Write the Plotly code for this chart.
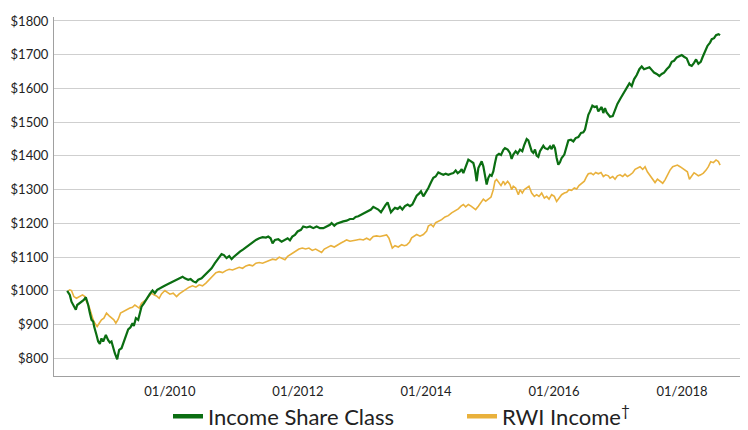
import plotly.graph_objects as go

# ---- Data ----
# x values are decimal years
income_years = [
    2008.396, 2008.437, 2008.463, 2008.531, 2008.552, 2008.583, 2008.620, 2008.656, 2008.687, 2008.724,
    2008.750, 2008.776, 2008.802, 2008.817, 2008.854, 2008.880, 2008.906, 2008.932, 2008.958, 2009.000,
    2009.036, 2009.062, 2009.088, 2009.114, 2009.140, 2009.177, 2009.208, 2009.245, 2009.271, 2009.323,
    2009.349, 2009.385, 2009.416, 2009.437, 2009.469, 2009.505, 2009.531, 2009.557, 2009.594, 2009.625,
    2009.661, 2009.687, 2009.729, 2009.765, 2009.802, 2009.843, 2009.896, 2009.948,
    2010.000, 2010.052, 2010.104, 2010.156, 2010.198, 2010.234, 2010.286, 2010.323, 2010.365, 2010.406,
    2010.443, 2010.495, 2010.547, 2010.599, 2010.651, 2010.703, 2010.755, 2010.807, 2010.844, 2010.885,
    2010.927, 2010.964, 2011.000, 2011.042, 2011.094, 2011.146, 2011.198, 2011.240, 2011.292, 2011.344,
    2011.396, 2011.448, 2011.500, 2011.536, 2011.573, 2011.604, 2011.641, 2011.693, 2011.745,
    2011.797, 2011.839, 2011.875, 2011.912, 2011.953, 2011.995, 2012.047, 2012.083, 2012.136, 2012.188,
    2012.240, 2012.292, 2012.344, 2012.396, 2012.448, 2012.500, 2012.526, 2012.568, 2012.604, 2012.656,
    2012.708, 2012.761, 2012.813, 2012.865, 2012.901, 2012.943, 2012.995, 2013.047, 2013.099, 2013.141,
    2013.177, 2013.214, 2013.255, 2013.297, 2013.333, 2013.370, 2013.401, 2013.422, 2013.453, 2013.490,
    2013.516, 2013.558, 2013.594, 2013.631, 2013.672, 2013.714, 2013.750, 2013.787, 2013.818, 2013.855,
    2013.891, 2013.922, 2013.959, 2013.995, 2014.037, 2014.079, 2014.115, 2014.151, 2014.193, 2014.235,
    2014.271, 2014.308, 2014.349, 2014.391, 2014.427, 2014.464, 2014.495, 2014.532, 2014.558, 2014.584,
    2014.610, 2014.636, 2014.662, 2014.704, 2014.740, 2014.766, 2014.792, 2014.818, 2014.844, 2014.870,
    2014.896, 2014.922, 2014.948, 2014.974, 2015.000, 2015.026, 2015.052, 2015.078, 2015.104, 2015.141,
    2015.172, 2015.209,
    2015.234, 2015.276, 2015.312, 2015.338, 2015.364, 2015.401, 2015.432, 2015.469, 2015.505, 2015.536,
    2015.573, 2015.599, 2015.625, 2015.651, 2015.677, 2015.703, 2015.729, 2015.755, 2015.781, 2015.807,
    2015.833, 2015.859, 2015.901, 2015.937, 2015.963, 2015.989, 2016.015, 2016.041, 2016.067, 2016.093,
    2016.119, 2016.161, 2016.198, 2016.224, 2016.265, 2016.302, 2016.338, 2016.380, 2016.422, 2016.458,
    2016.484, 2016.510, 2016.536, 2016.562, 2016.599, 2016.630, 2016.666, 2016.692, 2016.718, 2016.744,
    2016.770, 2016.796, 2016.822, 2016.859,
    2016.875, 2016.917, 2016.953, 2016.990, 2017.031, 2017.073, 2017.109, 2017.146, 2017.177, 2017.214,
    2017.250, 2017.292, 2017.333, 2017.370, 2017.406, 2017.448, 2017.490, 2017.526, 2017.562, 2017.604,
    2017.646, 2017.682, 2017.719, 2017.760, 2017.802, 2017.839, 2017.875, 2017.917, 2017.958, 2017.995,
    2018.031, 2018.073, 2018.115, 2018.151, 2018.187, 2018.219, 2018.255, 2018.292, 2018.323, 2018.359,
    2018.396, 2018.437, 2018.464, 2018.500, 2018.531, 2018.568, 2018.594,
]
income_values = [
    1000, 988, 968, 944, 958, 963, 968, 973, 981, 958,
    934, 914, 909, 894, 869, 850, 843, 859, 850, 869,
    854, 847, 850, 830, 815, 797, 825, 830, 845, 874,
    886, 892, 904, 896, 919, 914, 934, 953, 963, 973,
    983, 991, 1001, 993, 1003, 1008, 1013, 1018,
    1023, 1028, 1033, 1037, 1042, 1037, 1033, 1035, 1028, 1025,
    1033, 1037, 1047, 1057, 1067, 1082, 1097, 1109, 1106, 1097,
    1103, 1094, 1101, 1109, 1116, 1123, 1131, 1136, 1143, 1151,
    1156, 1159, 1158, 1161, 1156, 1141, 1151, 1153, 1146,
    1151, 1156, 1150, 1161, 1166, 1176, 1181, 1191, 1188, 1191,
    1186, 1191, 1186, 1186, 1191, 1196, 1201, 1193, 1199, 1203,
    1206, 1208, 1213, 1213, 1219, 1221, 1226, 1231, 1236, 1241,
    1249, 1246, 1241, 1233, 1246, 1255, 1262, 1250, 1233, 1241,
    1246, 1243, 1249, 1241, 1251, 1256, 1251, 1256, 1270, 1282,
    1288, 1295, 1280, 1290, 1305, 1322, 1335, 1339, 1351, 1347,
    1344, 1347, 1344, 1347, 1349, 1357, 1349, 1354, 1361, 1349,
    1364, 1381, 1389, 1384, 1379, 1359, 1325, 1364, 1374, 1384,
    1369, 1344, 1315, 1335, 1344, 1341, 1354, 1379, 1401, 1406,
    1403, 1418,
    1423, 1419, 1409, 1391, 1404, 1414, 1407, 1419, 1414, 1433,
    1450, 1446, 1433, 1414, 1409, 1419, 1401, 1397, 1414, 1423,
    1430, 1423, 1420, 1428, 1420, 1433, 1423, 1394, 1374, 1381,
    1394, 1404, 1428, 1446, 1448, 1443, 1453, 1456, 1468, 1470,
    1478, 1498, 1522, 1532, 1549, 1545, 1547, 1532, 1539, 1545,
    1527, 1542, 1529, 1522,
    1516, 1518, 1536, 1554, 1568, 1581, 1595, 1607, 1615, 1607,
    1627, 1640, 1657, 1665, 1657, 1660, 1663, 1655, 1647, 1643,
    1637, 1643, 1647, 1657, 1665, 1679, 1682, 1692, 1696, 1699,
    1694, 1689, 1670, 1667, 1676, 1686, 1673, 1679, 1694, 1709,
    1726, 1736, 1746, 1749, 1758, 1761, 1758,
]

rwi_years = [
    2008.411, 2008.437, 2008.463, 2008.500, 2008.541, 2008.594, 2008.635, 2008.672, 2008.698, 2008.739,
    2008.776, 2008.802, 2008.828, 2008.864, 2008.896, 2008.932, 2008.969, 2009.010, 2009.052, 2009.088,
    2009.125, 2009.156, 2009.193, 2009.229, 2009.271, 2009.323, 2009.375, 2009.416, 2009.453, 2009.489,
    2009.521, 2009.557, 2009.594, 2009.635, 2009.677, 2009.713, 2009.750, 2009.791, 2009.833, 2009.869,
    2009.922, 2009.974,
    2010.000, 2010.052, 2010.104, 2010.146, 2010.198, 2010.250, 2010.302, 2010.354, 2010.406, 2010.458,
    2010.510, 2010.563, 2010.615, 2010.667, 2010.719, 2010.771, 2010.823, 2010.875, 2010.927, 2010.979,
    2011.031, 2011.083, 2011.135, 2011.188, 2011.240, 2011.292, 2011.344, 2011.396, 2011.448, 2011.500,
    2011.552, 2011.604, 2011.656, 2011.708, 2011.760,
    2011.797, 2011.839, 2011.875, 2011.912, 2011.964, 2012.016, 2012.068, 2012.120, 2012.172, 2012.224,
    2012.276, 2012.328, 2012.370, 2012.412, 2012.464, 2012.516, 2012.568, 2012.620, 2012.672, 2012.724,
    2012.761, 2012.813, 2012.865, 2012.917, 2012.969, 2013.021, 2013.073, 2013.125, 2013.177, 2013.229,
    2013.281, 2013.333, 2013.385, 2013.422, 2013.453, 2013.474, 2013.516, 2013.568, 2013.620, 2013.662,
    2013.698, 2013.745,
    2013.776, 2013.802, 2013.855, 2013.907, 2013.959, 2014.011, 2014.037, 2014.079, 2014.115, 2014.151,
    2014.193, 2014.245, 2014.297, 2014.349, 2014.401, 2014.453, 2014.505, 2014.547, 2014.584, 2014.620,
    2014.662, 2014.704, 2014.740, 2014.776, 2014.818, 2014.860, 2014.896, 2014.933, 2014.974, 2015.016,
    2015.052, 2015.078, 2015.104, 2015.141, 2015.172, 2015.209,
    2015.234, 2015.276, 2015.312, 2015.338, 2015.364, 2015.401, 2015.443, 2015.469, 2015.505, 2015.536,
    2015.573, 2015.609, 2015.651, 2015.693, 2015.729, 2015.765, 2015.807, 2015.849, 2015.885, 2015.922,
    2015.963, 2016.005, 2016.041, 2016.078, 2016.119, 2016.161, 2016.198, 2016.234, 2016.276, 2016.317,
    2016.354, 2016.390, 2016.432, 2016.474, 2016.510, 2016.536, 2016.578, 2016.614, 2016.651, 2016.692,
    2016.734, 2016.770, 2016.807, 2016.849,
    2016.875, 2016.917, 2016.953, 2016.990, 2017.031, 2017.073, 2017.109, 2017.146, 2017.187, 2017.229,
    2017.266, 2017.302, 2017.344, 2017.385, 2017.422, 2017.458, 2017.500, 2017.542, 2017.578, 2017.615,
    2017.656, 2017.698, 2017.734, 2017.771, 2017.812, 2017.854, 2017.891, 2017.927, 2017.969, 2018.010,
    2018.047, 2018.083, 2018.115, 2018.151, 2018.187, 2018.219, 2018.255, 2018.292, 2018.333, 2018.375,
    2018.411, 2018.448, 2018.490, 2018.531, 2018.568, 2018.594,
]
rwi_values = [
    1000, 1003, 1001, 983, 978, 983, 988, 983, 968, 953,
    929, 914, 904, 894, 904, 914, 919, 934, 926, 919,
    914, 904, 916, 934, 939, 944, 949, 951, 958, 953,
    949, 963, 968, 975, 985, 993, 988, 985, 978, 991,
    1001, 995,
    990, 993, 983, 991, 998, 1003, 1011, 1015, 1011, 1018,
    1015, 1023, 1033, 1044, 1054, 1057, 1054, 1060, 1064, 1062,
    1067, 1070, 1067, 1074, 1077, 1074, 1082, 1084, 1082, 1087,
    1090, 1094, 1092, 1100, 1094,
    1092, 1102, 1107, 1110, 1117, 1124, 1127, 1124, 1127, 1120,
    1124, 1117, 1114, 1124, 1130, 1134, 1130, 1137, 1142, 1147,
    1151, 1147, 1150, 1151, 1153, 1151, 1156, 1151, 1161, 1163,
    1161, 1163, 1166, 1156, 1137, 1127, 1134, 1130, 1137, 1134,
    1136, 1145,
    1157, 1160, 1167, 1162, 1167, 1177, 1192, 1197, 1190, 1202,
    1206, 1211, 1219, 1223, 1231, 1236, 1243, 1251, 1256, 1249,
    1256, 1251, 1246, 1241, 1251, 1261, 1272, 1266, 1272, 1278,
    1300, 1325, 1330, 1318, 1312, 1325,
    1315, 1325, 1315, 1300, 1310, 1305, 1285, 1300, 1290, 1300,
    1305, 1310, 1290, 1280, 1285, 1280, 1290, 1275, 1280, 1272,
    1285, 1280, 1265, 1275, 1285, 1290, 1292, 1300, 1298, 1305,
    1302, 1312, 1320, 1325, 1339, 1347, 1349, 1344, 1351, 1347,
    1351, 1339, 1344, 1341,
    1334, 1339, 1331, 1341, 1344, 1339, 1346, 1339, 1344, 1350,
    1360, 1363, 1368, 1360, 1368, 1353, 1341, 1329, 1321, 1331,
    1324, 1319, 1329, 1344, 1358, 1368, 1370, 1373, 1368, 1363,
    1360, 1353, 1331, 1339, 1350, 1346, 1341, 1344, 1349, 1358,
    1368, 1383, 1380, 1388, 1383, 1373,
]

x_tick_values = [2010, 2012, 2014, 2016, 2018]
x_tick_labels = ["01/2010", "01/2012", "01/2014", "01/2016", "01/2018"]
y_tick_values = [800, 900, 1000, 1100, 1200, 1300, 1400, 1500, 1600, 1700, 1800]
y_tick_labels = ["$800", "$900", "$1000", "$1100", "$1200", "$1300", "$1400", "$1500", "$1600", "$1700", "$1800"]

series_names = ["Income Share Class", "RWI Income<sup>†</sup>"]

GREEN = "#0b6e12"
GOLD = "#e9b13c"
FONT = "Lato, 'Noto Sans', sans-serif"

# the page body has an 8px margin, so the figure is 8px smaller than the window
FIG_W, FIG_H = 740, 422

fig = go.Figure()

# plotted lines (legend handled by dedicated entries below)
fig.add_trace(go.Scatter(x=rwi_years, y=rwi_values, mode="lines",
                         line=dict(color=GOLD, width=1.6), showlegend=False, hoverinfo="skip"))
fig.add_trace(go.Scatter(x=income_years, y=income_values, mode="lines",
                         line=dict(color=GREEN, width=2.2), showlegend=False, hoverinfo="skip"))

# legend entries with thicker swatches
fig.add_trace(go.Scatter(x=[None], y=[None], mode="lines", name=series_names[0],
                         line=dict(color=GREEN, width=4.5)))
fig.add_trace(go.Scatter(x=[None], y=[None], mode="lines", name=series_names[1],
                         line=dict(color=GOLD, width=4.5)))

fig.update_layout(
    width=FIG_W, height=FIG_H,
    margin=dict(l=46, r=0, t=9, b=54, autoexpand=False),
    paper_bgcolor="white", plot_bgcolor="white",
    font=dict(family=FONT, size=13, color="#222222"),
    showlegend=True,
    legend=dict(orientation="h", x=160 / FIG_W, xref="container", xanchor="left",
                y=0.032, yref="container", yanchor="middle",
                font=dict(family=FONT, size=22, color="#222222"),
                entrywidth=249, entrywidthmode="pixels", itemwidth=30,
                bgcolor="rgba(0,0,0,0)"),
    xaxis=dict(range=[2008.19, 2019.03], tickmode="array", tickvals=x_tick_values,
               ticktext=x_tick_labels, showgrid=False, zeroline=False, showline=True,
               linecolor="#a0a0a0", linewidth=1.3, ticks="", tickfont=dict(size=13),
               ticklabelstandoff=3, automargin=False),
    yaxis=dict(range=[747.6, 1811.8], tickmode="array", tickvals=y_tick_values,
               ticktext=y_tick_labels, showgrid=True, gridcolor="#cfcfcf", gridwidth=1.3,
               zeroline=False, showline=True, linecolor="#a0a0a0", linewidth=1.3,
               ticks="", tickfont=dict(size=13), ticklabelstandoff=2, automargin=False),
)

fig.write_html("out.html")
